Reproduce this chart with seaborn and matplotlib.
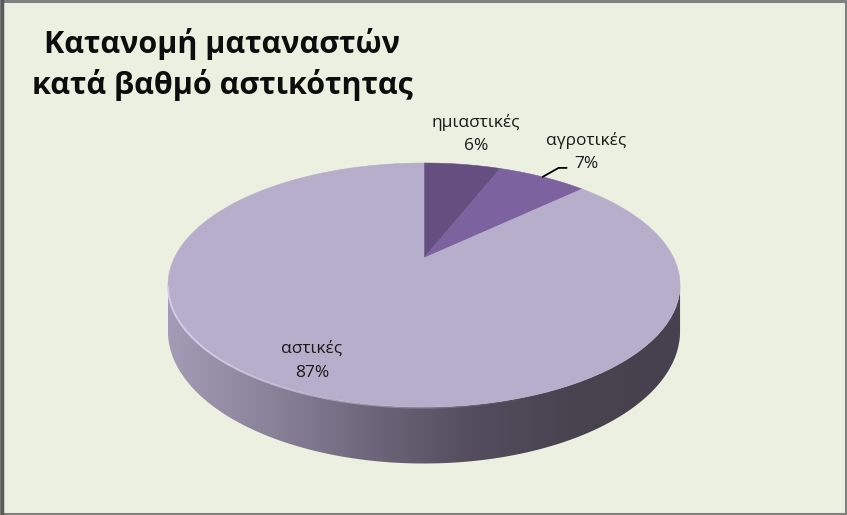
"""3D-style pie: distribution of migrants by degree of urbanisation."""

import numpy as np
import matplotlib
matplotlib.use("Agg")
import matplotlib.pyplot as plt
from matplotlib.patches import Polygon, Rectangle
from matplotlib.collections import LineCollection
import seaborn as sns

# data
categories = ["ημιαστικές", "αγροτικές", "αστικές"]
shares = [6, 7, 87]
top_colors = ["#654e80", "#7d62a0", "#b7aecb"]
title_lines = ["Κατανομή ματαναστών", "κατά βαθμό αστικότητας"]

W, H = 847, 515
BG = "#ecf0e0"

sns.set_style("white")
plt.rcParams["font.family"] = ["Open Sans", "DejaVu Sans"]

# perspective disc geometry (pixel space)
CX, A = 424.0, 249.7
K, P, Q = 0.2213, 58.93, 258.0
DEPTH = 44.0


def proj(u, v):
    d = 1.0 - K * v
    return CX + A * u / d, (P * v + Q) / d


def arc(t0, t1, n=120):
    t = np.linspace(t0, t1, n)
    return proj(np.sin(t), -np.cos(t))


fig = plt.figure(figsize=(W / 100, H / 100), dpi=100)
fig.patch.set_facecolor(BG)
ax = fig.add_axes([0, 0, 1, 1])
ax.set_xlim(0, W)
ax.set_ylim(H, 0)
ax.set_facecolor(BG)
ax.axis("off")

# side of the disc (front half)
phi = np.linspace(np.arcsin(K), np.pi - np.arcsin(K), 200)
u, v = np.cos(phi), np.sin(phi)
xt, yt = proj(u, v)
off = DEPTH / (1.0 - K * v)
side_x = np.concatenate([xt, xt[::-1]])
side_y = np.concatenate([yt, (yt + off)[::-1]])
side = Polygon(np.column_stack([side_x, side_y]), closed=True,
               facecolor="none", edgecolor="none")
ax.add_patch(side)
side_cmap = sns.blend_palette(["#a39cb6", "#8a8299", "#6d6579", "#534c5d",
                               "#48434f", "#46414e"], as_cmap=True)
grad = np.linspace(0, 1, 256).reshape(1, -1)
img = ax.imshow(grad, cmap=side_cmap, aspect="auto",
                extent=[xt.min(), xt.max(), (yt + off).max() + 2, yt.min() - 2],
                zorder=1)
img.set_clip_path(side)

# top face wedges, clockwise from 12 o'clock
fracs = np.array(shares, dtype=float) / sum(shares)
bounds = np.concatenate([[0], np.cumsum(fracs)]) * 2 * np.pi
ax_c, ay_c = proj(0.0, 0.0)
for i, col in enumerate(top_colors):
    x, y = arc(bounds[i], bounds[i + 1])
    pts = np.column_stack([np.r_[ax_c, x], np.r_[ay_c, y]])
    ax.add_patch(Polygon(pts, closed=True, facecolor=col,
                         edgecolor=col, lw=0.4, zorder=2))

# light rim along the front edge, fading towards the right
rim = np.linspace(np.pi - np.arcsin(K), np.pi * 0.35, 160)
rx, ry = proj(np.cos(rim), np.sin(rim))
segs = np.stack([np.column_stack([rx[:-1], ry[:-1] + 0.8]),
                 np.column_stack([rx[1:], ry[1:] + 0.8])], axis=1)
alphas = np.clip(np.linspace(1.3, -0.1, len(segs)), 0, 0.9)
rim_cols = [(0.87, 0.84, 0.93, a) for a in alphas]
ax.add_collection(LineCollection(segs, colors=rim_cols, lw=1.3, zorder=3))

# title
ax.text(222, 53, title_lines[0], ha="center", va="baseline",
        fontsize=22, fontweight="bold", color="#0d0d0d")
ax.text(222, 94, title_lines[1], ha="center", va="baseline",
        fontsize=22, fontweight="bold", color="#0d0d0d")

# data labels
label_pos = [(476, 127, 150), (586, 145, 168), (312, 353, 377)]
for (name, share), (lx, ly1, ly2) in zip(zip(categories, shares), label_pos):
    ax.text(lx, ly1, name, ha="center", va="baseline", fontsize=12.5,
            color="#1a1a1a")
    ax.text(lx, ly2, f"{share}%", ha="center", va="baseline", fontsize=12.5,
            color="#1a1a1a")

# leader line for αγροτικές
mid = (bounds[1] + bounds[2]) / 2
ex, ey = proj(np.sin(mid), -np.cos(mid))
ax.plot([ex, ex + 16, ex + 24], [ey, ey - 9, ey - 9], color="black", lw=1.3,
        zorder=4)

# chart border
ax.add_patch(Rectangle((1, 1), W - 2.5, H - 2.5, facecolor="none",
                       edgecolor="#808080", lw=2.2, zorder=5))
ax.plot([1.5, 1.5], [0, H], color="#5a5a5a", lw=2.5, zorder=6)

fig.savefig("out.png", dpi=100, facecolor=BG)
